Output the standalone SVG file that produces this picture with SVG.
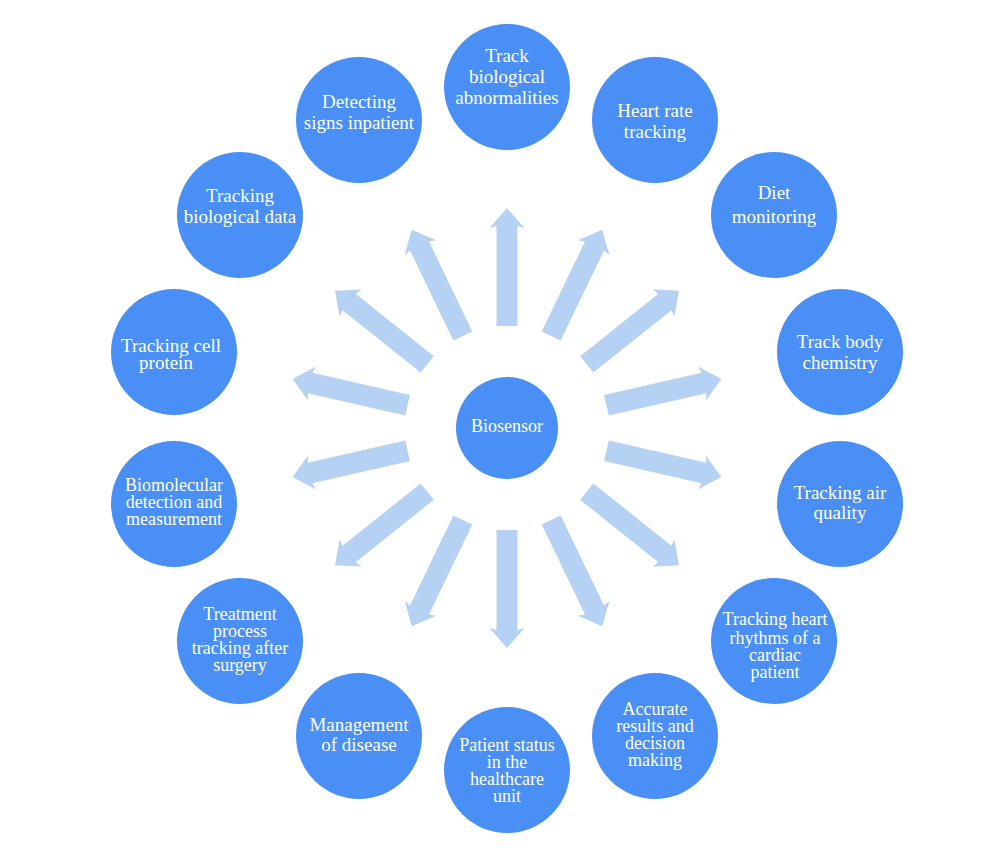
<svg xmlns="http://www.w3.org/2000/svg" xmlns:xlink="http://www.w3.org/1999/xlink" width="1000" height="850" viewBox="0 0 1000 850">
<style>
.node{fill:#4a8ff5;}
.lbl{font-family:"Liberation Serif","Times New Roman",serif;font-size:19px;fill:#ffffff;text-anchor:middle;}
.sm{font-size:18px;}
.arr{fill:#b5d1f3;}
</style>
<defs>
<path id="arrow" class="arr" d="M102,-10.5 L202,-10.5 L200,-17.5 L220,0 L200,17.5 L202,10.5 L102,10.5 Z"/>
</defs>
<rect width="1000" height="850" fill="#ffffff"/>
<g id="connectors">
<use xlink:href="#arrow" transform="translate(507,428) rotate(-90)"/>
<use xlink:href="#arrow" transform="translate(507,428) rotate(-64.33)"/>
<use xlink:href="#arrow" transform="translate(507,428) rotate(-38.58)"/>
<use xlink:href="#arrow" transform="translate(507,428) rotate(-12.86)"/>
<use xlink:href="#arrow" transform="translate(507,428) rotate(12.86)"/>
<use xlink:href="#arrow" transform="translate(507,428) rotate(38.58)"/>
<use xlink:href="#arrow" transform="translate(507,428) rotate(64.33)"/>
<use xlink:href="#arrow" transform="translate(507,428) rotate(90)"/>
<use xlink:href="#arrow" transform="translate(507,428) rotate(115.67)"/>
<use xlink:href="#arrow" transform="translate(507,428) rotate(141.42)"/>
<use xlink:href="#arrow" transform="translate(507,428) rotate(167.14)"/>
<use xlink:href="#arrow" transform="translate(507,428) rotate(-167.14)"/>
<use xlink:href="#arrow" transform="translate(507,428) rotate(-141.42)"/>
<use xlink:href="#arrow" transform="translate(507,428) rotate(-115.67)"/>
</g>
<g id="biosensor">
<circle class="node" cx="507" cy="428" r="51"/>
<text class="lbl" x="507" y="432" style="font-size:18px">Biosensor</text>
</g>
<g id="n1">
<circle class="node" cx="507" cy="87" r="63"/>
<text class="lbl" x="507" y="62">Track</text>
<text class="lbl" x="507" y="83">biological</text>
<text class="lbl" x="507" y="104">abnormalities</text>
</g>
<g id="n2">
<circle class="node" cx="655" cy="120" r="63"/>
<text class="lbl" x="655" y="117">Heart rate</text>
<text class="lbl" x="655" y="138">tracking</text>
</g>
<g id="n3">
<circle class="node" cx="774" cy="215" r="63"/>
<text class="lbl" x="774" y="199">Diet</text>
<text class="lbl" x="774" y="223">monitoring</text>
</g>
<g id="n4">
<circle class="node" cx="840" cy="352" r="63"/>
<text class="lbl" x="840" y="348">Track body</text>
<text class="lbl" x="840" y="369">chemistry</text>
</g>
<g id="n5">
<circle class="node" cx="840" cy="504" r="63"/>
<text class="lbl" x="840" y="499">Tracking air</text>
<text class="lbl" x="840" y="519">quality</text>
</g>
<g id="n6">
<circle class="node" cx="774" cy="641" r="63"/>
<text class="lbl sm" x="775" y="625">Tracking heart</text>
<text class="lbl sm" x="775" y="644">rhythms of a</text>
<text class="lbl sm" x="775" y="661">cardiac</text>
<text class="lbl sm" x="775" y="678">patient</text>
</g>
<g id="n7">
<circle class="node" cx="655" cy="736" r="63"/>
<text class="lbl sm" x="655" y="715">Accurate</text>
<text class="lbl sm" x="655" y="732">results and</text>
<text class="lbl sm" x="655" y="749">decision</text>
<text class="lbl sm" x="655" y="766">making</text>
</g>
<g id="n8">
<circle class="node" cx="507" cy="770" r="63"/>
<text class="lbl sm" x="507" y="751">Patient status</text>
<text class="lbl sm" x="507" y="768">in the</text>
<text class="lbl sm" x="507" y="785">healthcare</text>
<text class="lbl sm" x="507" y="802">unit</text>
</g>
<g id="n9">
<circle class="node" cx="359" cy="736" r="63"/>
<text class="lbl" x="359" y="731">Management</text>
<text class="lbl" x="359" y="751">of disease</text>
</g>
<g id="n10">
<circle class="node" cx="240" cy="641" r="63"/>
<text class="lbl sm" x="240" y="620">Treatment</text>
<text class="lbl sm" x="240" y="637">process</text>
<text class="lbl sm" x="240" y="654">tracking after</text>
<text class="lbl sm" x="240" y="671">surgery</text>
</g>
<g id="n11">
<circle class="node" cx="174" cy="504" r="63"/>
<text class="lbl sm" x="174" y="491">Biomolecular</text>
<text class="lbl sm" x="174" y="508">detection and</text>
<text class="lbl sm" x="174" y="525">measurement</text>
</g>
<g id="n12">
<circle class="node" cx="174" cy="352" r="63"/>
<text class="lbl" x="171" y="352">Tracking cell</text>
<text class="lbl" x="166" y="369">protein</text>
</g>
<g id="n13">
<circle class="node" cx="240" cy="215" r="63"/>
<text class="lbl" x="240" y="202">Tracking</text>
<text class="lbl" x="240" y="223">biological data</text>
</g>
<g id="n14">
<circle class="node" cx="359" cy="120" r="63"/>
<text class="lbl" x="359" y="108">Detecting</text>
<text class="lbl" x="359" y="129">signs inpatient</text>
</g>
</svg>
